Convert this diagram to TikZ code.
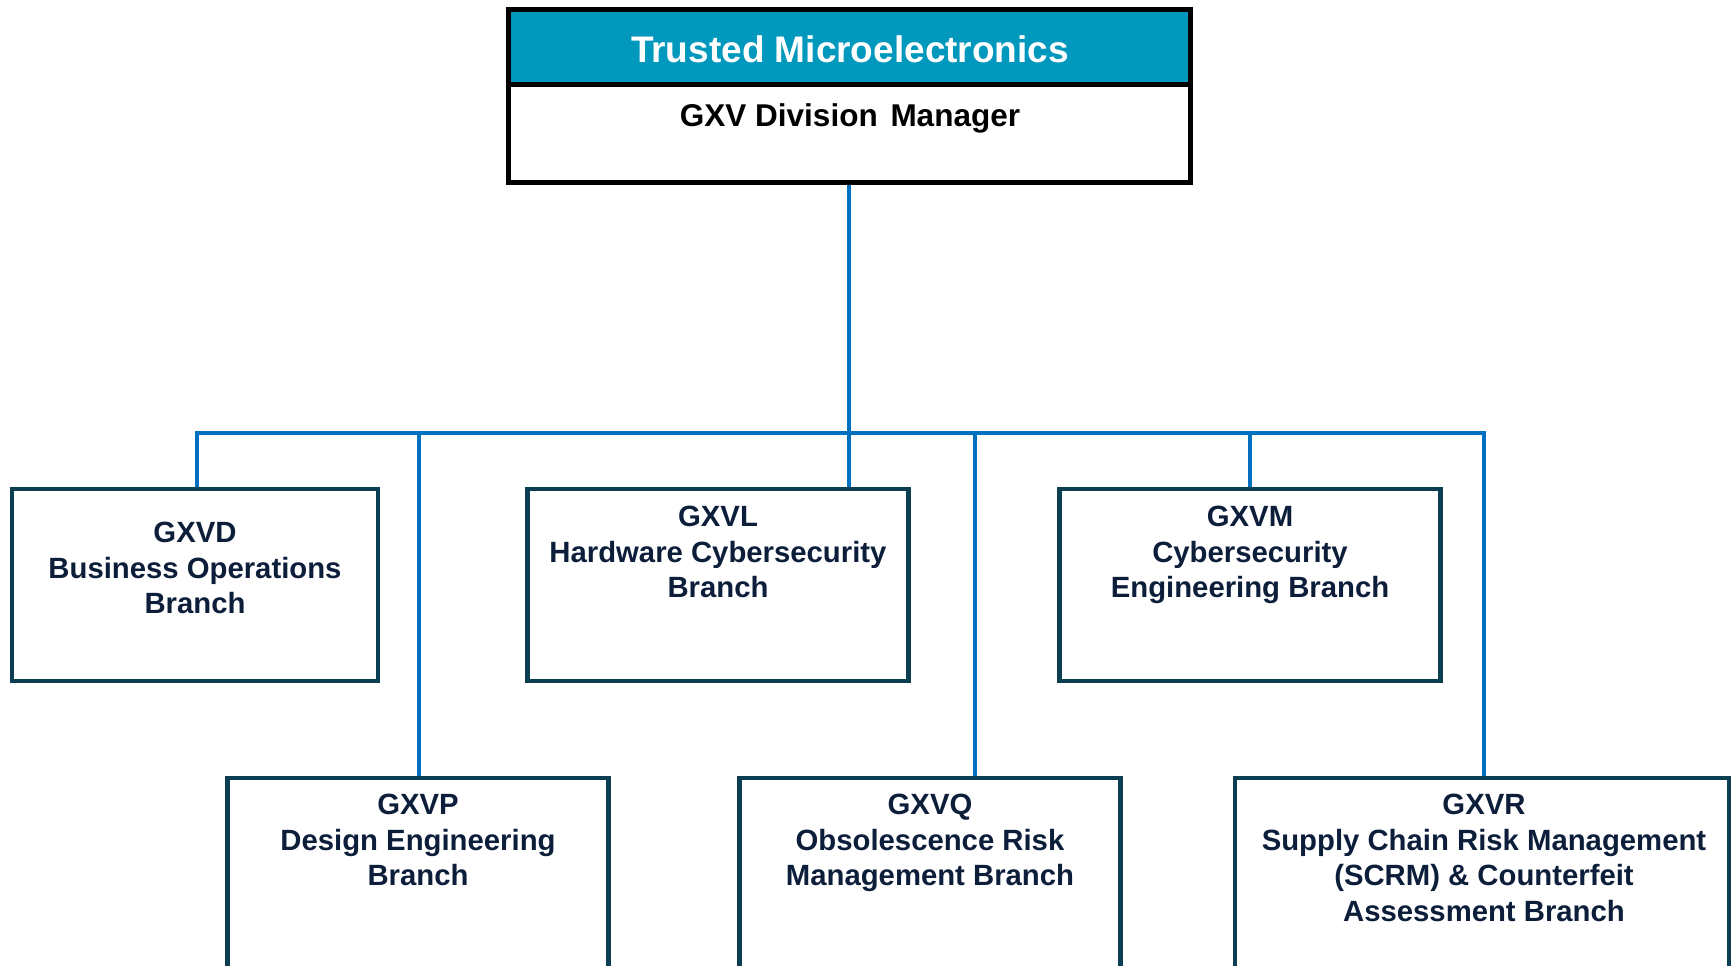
\documentclass[tikz,border=0pt]{standalone}
\usepackage{fontspec}
\setmainfont{Liberation Sans}
\usepackage{tikz}
\definecolor{tmteal}{RGB}{0,152,189}
\definecolor{boxline}{RGB}{10,62,80}
\definecolor{connblue}{RGB}{0,112,192}
\definecolor{navytext}{RGB}{12,30,58}

\begin{document}
\begin{tikzpicture}[x=1pt, y=-1pt,
        branch/.style={rectangle, draw=boxline, line width=4.3pt, minimum width=381pt, minimum height=192pt, inner sep=0pt},
        lowbranch/.style={branch, minimum height=200pt},
        btext/.style={anchor=north, align=center, text=navytext, inner sep=0pt, font=\fontsize{29.3}{35.5}\selectfont\bfseries},
        conn/.style={draw=connblue, line width=3.5pt}]
        \useasboundingbox (0,0) rectangle (1733,966);
        \clip (0,0) rectangle (1733,966);
        \node[rectangle, draw=black, line width=5pt, minimum width=682pt, minimum height=172pt, inner sep=0pt] (H) at (849,96) {};
        \node[rectangle, draw=black, fill=tmteal, line width=5pt, minimum width=682pt, minimum height=75pt, inner sep=0pt, anchor=north] (T) at (H.north) {};
        \node[anchor=base, text=white, inner sep=0pt, font=\fontsize{37}{44}\selectfont\bfseries] (Tt) at (850,63) {Trusted Microelectronics};
        \node[anchor=base, text=black, inner sep=0pt, font=\fontsize{31.5}{38}\selectfont\bfseries] (Ht) at (850,126) {GXV Division\hspace{4pt} Manager};
        \node[branch, minimum width=366pt] (D) at (195,585) {};
        \node[branch] (L) at (718,585) {};
        \node[branch] (M) at (1250,585) {};
        \node[lowbranch] (P) at (418,878) {};
        \node[lowbranch] (Q) at (930,878) {};
        \node[lowbranch, minimum width=494pt] (R) at (1482,878) {};
        \node[btext] (Dt) at (195,522) {GXVD\\Business Operations\\Branch};
        \node[btext] (Lt) at (718,506) {GXVL\\Hardware Cybersecurity\\Branch};
        \node[btext] (Mt) at (1250,506) {GXVM\\Cybersecurity\\Engineering Branch};
        \node[btext] (Pt) at (418,794) {GXVP\\Design Engineering\\Branch};
        \node[btext] (Qt) at (930,794) {GXVQ\\Obsolescence Risk\\Management Branch};
        \node[btext] (Rt) at (1484,794) {GXVR\\Supply Chain Risk Management\\(SCRM) \& Counterfeit\\Assessment Branch};
        \coordinate (dx) at (197,433);
        \coordinate (px) at (419,433);
        \coordinate (qx) at (975,433);
        \coordinate (rx) at (1484,433);
        \draw[conn] (H.south) -- (H.south |- L.north);
        \draw[conn] (dx |- D.north) -- (dx) -- (rx) -- (rx |- R.north);
        \draw[conn] (M.north |- dx) -- (M.north);
        \draw[conn] (px) -- (px |- P.north);
        \draw[conn] (qx) -- (qx |- Q.north);
\end{tikzpicture}
\end{document}
